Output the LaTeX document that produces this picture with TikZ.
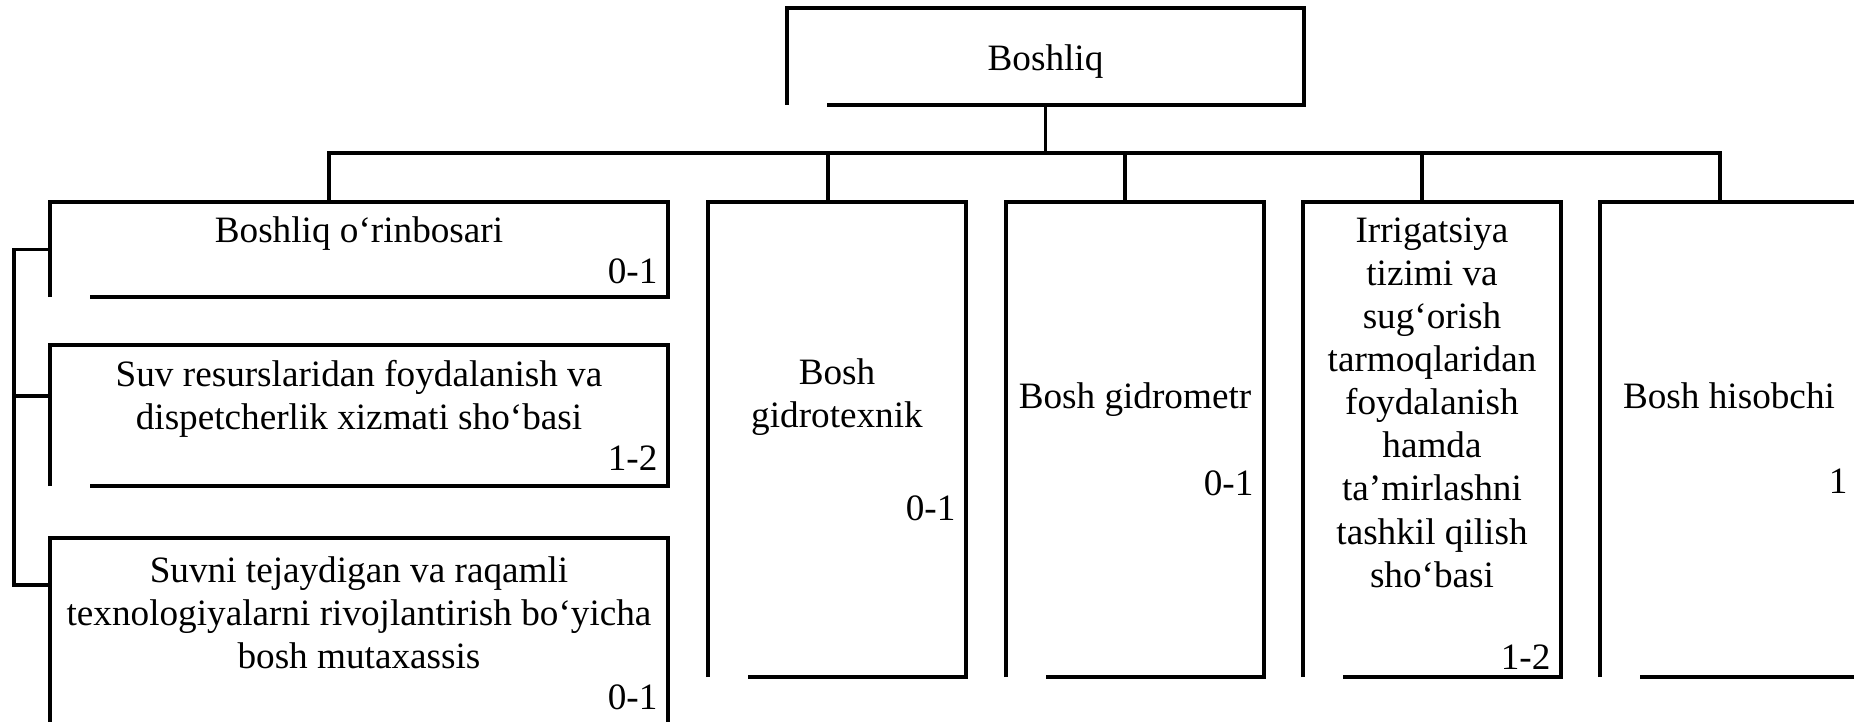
\documentclass[tikz,border=0pt]{standalone}
\usepackage{fontspec}
\setmainfont{Liberation Serif}
\usetikzlibrary{fit}

\def\boxes{boss/787/8/1304/105, dep/50/202/668/297, suv/50/345/668/486, tej/50/538/668/760, gtex/708/202/966/677, gmet/1006/202/1264/677, irr/1303/202/1561/677, hisob/1600/202/1858/677}
\tikzstyle{place} = [inner sep=0pt, outer sep=0pt, draw=none]
\tikzstyle{line} = [draw, line width=1.3pt]
\tikzstyle{frame} = [draw, line width=1.3pt]
\tikzstyle{title} = [inner sep=0pt, align=center, anchor=north, font=\fontsize{14}{16.2}\selectfont]
\tikzstyle{count} = [inner sep=0pt, anchor=base east, font=\fontsize{14}{16.2}\selectfont]

\begin{document}
\begin{tikzpicture}[x=0.3763pt, y=-0.3763pt]
  \useasboundingbox (0,0) rectangle (1854,722);
  \path[fill=white] (0,0) rectangle (1854,722);

  % The boxes
  \foreach \name/\l/\t/\r/\b in \boxes {
    \node[place, fit={(\l,\t) (\r,\b)}] (\name) {};
    \path[frame] (\name.south west) -- (\name.north west) -- (\name.north east)
      -- (\name.south east) -- ([shift={(40,0)}]\name.south west);
  }

  % Names of the posts
  \foreach \name/\dy/\txt in {boss/32/Boshliq, dep/10/Boshliq o‘rinbosari,
      suv/11/{Suv resurslaridan foydalanish va\\dispetcherlik xizmati sho‘basi},
      tej/14/{Suvni tejaydigan va raqamli\\texnologiyalarni rivojlantirish bo‘yicha\\bosh mutaxassis},
      gtex/152/{Bosh\\gidrotexnik}, gmet/176/Bosh gidrometr,
      irr/10/{Irrigatsiya\\tizimi va\\sug‘orish\\tarmoqlaridan\\foydalanish\\hamda\\ta’mirlashni\\tashkil qilish\\sho‘basi},
      hisob/176/Bosh hisobchi}
    \node[title] (\name text) at ([shift={(0,\dy)}]\name.north) {\strut\txt};

  % Staff numbers
  \foreach \name/\dy/\txt in {dep/82/0-1, suv/125/1-2, tej/171/0-1, gtex/318/0-1,
      gmet/293/0-1, irr/467/1-2, hisob/291/1}
    \node[count] (\name num) at ([shift={(-10,\dy)}]\name.north east) {\txt};

  % The bus from the head to the posts
  \coordinate (bus) at (0,153);
  \coordinate (depfoot) at ([shift={(-30,0)}]dep.north);
  \coordinate (gtexfoot) at ([shift={(-9,0)}]gtex.north);
  \coordinate (gmetfoot) at ([shift={(-10,0)}]gmet.north);
  \coordinate (irrfoot) at ([shift={(-10,0)}]irr.north);
  \coordinate (hisobfoot) at ([shift={(-9,0)}]hisob.north);
  \path[line] (boss.south) -- (boss.south |- bus);
  \path[line] (depfoot) -- (depfoot |- bus) -- (hisobfoot |- bus) -- (hisobfoot);
  \foreach \foot in {gtexfoot, gmetfoot, irrfoot}
    \path[line] (\foot) -- (\foot |- bus);

  % Bracket of the deputy
  \coordinate (brk) at (14,0);
  \coordinate (suvtick) at ([shift={(0,51)}]suv.north west);
  \coordinate (tejtick) at ([shift={(0,47)}]tej.north west);
  \path[line] (dep.west) -- (dep.west -| brk) -- (tejtick -| brk) -- (tejtick);
  \path[line] (suvtick) -- (suvtick -| brk);
\end{tikzpicture}
\end{document}
